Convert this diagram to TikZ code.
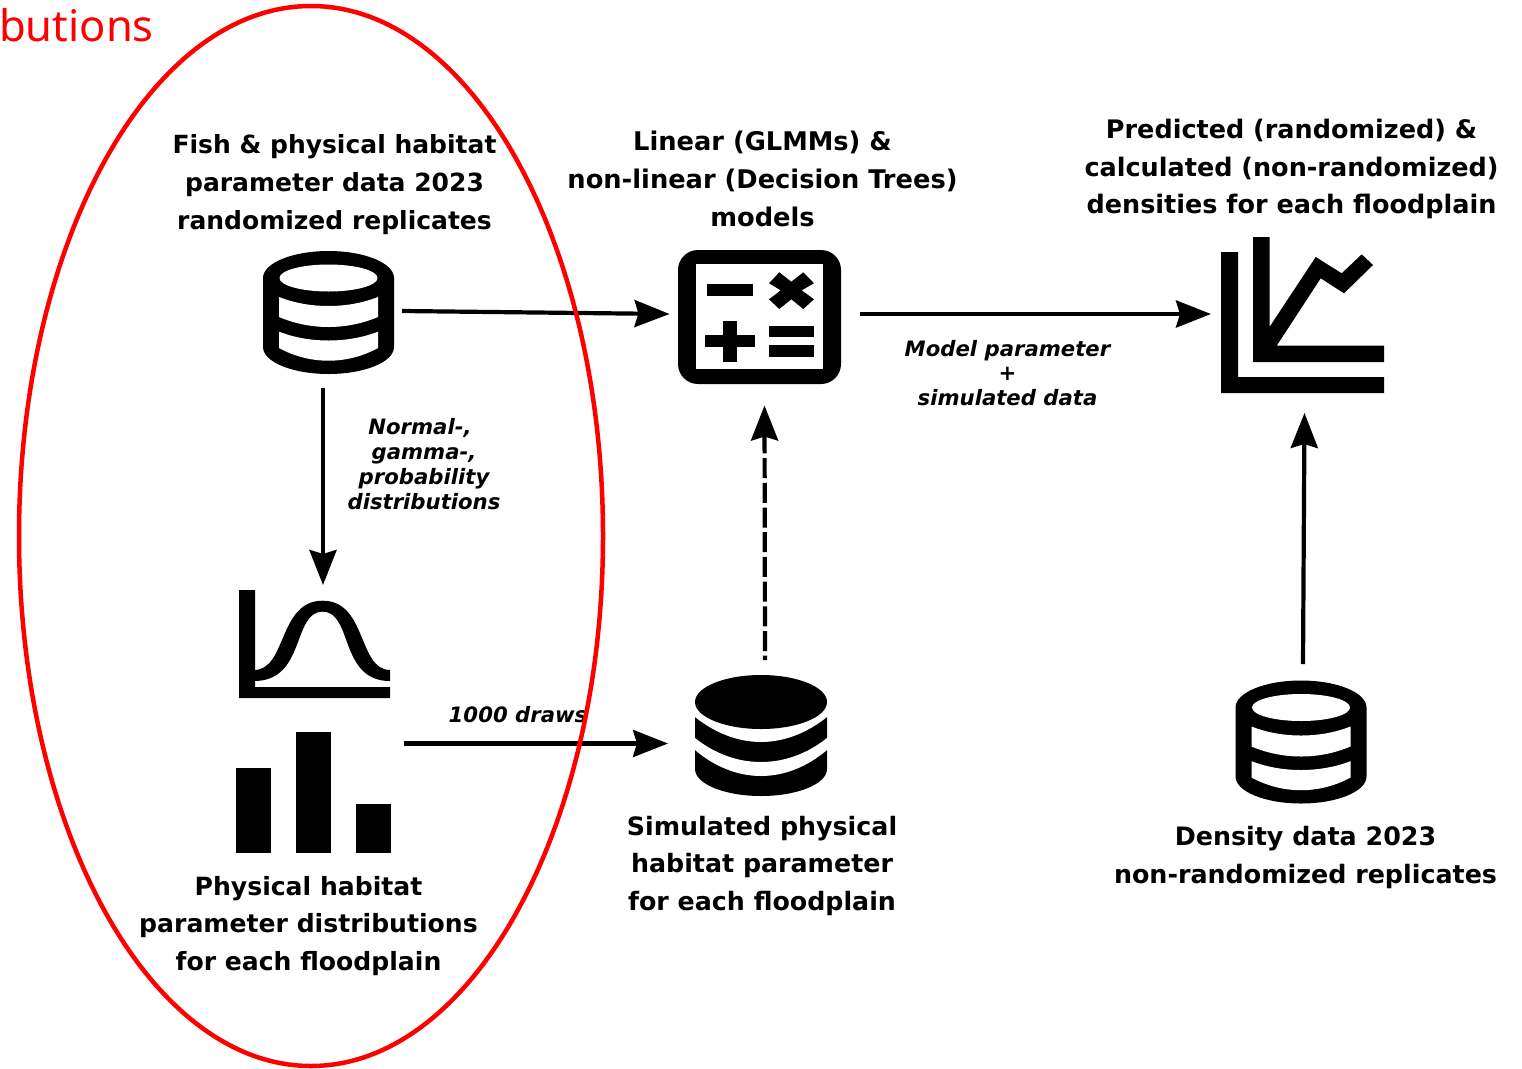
\documentclass[tikz,border=0pt]{standalone}
\usepackage{fontspec}
\setmainfont{DejaVu Sans}
\newfontfamily\redfont{Noto Sans}
\usetikzlibrary{arrows.meta}
\definecolor{ringred}{RGB}{255,0,0}
\tikzset{
  slot/.style={inner sep=0pt,outer sep=0pt,minimum width=#1},
  headtext/.style={align=center,font=\fontsize{#1}{37.7}\selectfont\bfseries,inner sep=0pt},
  edgetext/.style={align=center,font=\fontsize{21.2}{24.8}\selectfont\bfseries\itshape,inner sep=0pt},
  flow/.style={line width=4.2pt,-{Stealth[length=35pt,width=27pt,inset=4pt]}},
  dbicon/.pic={
    \fill (-65.5,27) arc[start angle=180,end angle=0,x radius=65.5pt,y radius=27pt] -- (65.5,96)
          arc[start angle=0,end angle=-180,x radius=65.5pt,y radius=27pt] -- cycle;
    \fill[white] (0,27) circle[x radius=49pt,y radius=13.5pt];
    \fill[white] (-49.5,46) .. controls (-33,52.5) and (-16,55) .. (0,55) .. controls (16,55) and (33,52.5) .. (49.5,46)
          -- (49.5,66) .. controls (33,73) and (16,76) .. (0,76) .. controls (-16,76) and (-33,73) .. (-49.5,66) -- cycle;
    \fill[white] (-49.5,80.7) .. controls (-33,87) and (-16,89.5) .. (0,89.5) .. controls (16,89.5) and (33,87) .. (49.5,80.7)
          -- (49.5,97) .. controls (33,106) and (16,109.7) .. (0,109.7) .. controls (-16,109.7) and (-33,106) .. (-49.5,97) -- cycle;
  },
  dbfilled/.pic={
    \fill (-66,27) -- (-66,94) arc[start angle=180,end angle=360,x radius=66pt,y radius=27pt] -- (66,27) -- cycle;
    \fill[white] (-68,20) -- (-68,40) -- (-66,42) .. controls (-46,58) and (-23,67) .. (0,67) .. controls (23,67) and (46,58) .. (66,42) -- (68,40) -- (68,20) -- cycle;
    \fill[white] (-68,61) -- (-66,63) .. controls (-46,79) and (-23,87) .. (0,87) .. controls (23,87) and (46,79) .. (66,63) -- (68,61) -- (68,73) -- (66,75) .. controls (46,92) and (23,101) .. (0,101) .. controls (-23,101) and (-46,92) .. (-66,75) -- (-68,73) -- cycle;
    \fill (0,27) circle[x radius=66pt,y radius=27pt];
  }
}
\begin{document}
\begin{tikzpicture}[x=1pt,y=-1pt]
\useasboundingbox (0,0) rectangle (1522,1068);
\fill[white] (0,0) rectangle (1522,1068);

% icon slots (invisible nodes that carry the connectors)
\node[slot=158pt,minimum height=154pt] (dbA) at (323,311) {};
\node[slot=190pt,minimum height=183pt] (calc) at (764.5,314) {};
\node[slot=187pt,minimum height=198pt] (chart) at (1304.5,314) {};
\node[slot=150pt,minimum height=110pt] (gauss) at (323,640) {};
\node[slot=162pt,minimum height=122pt] (bars) at (323,743.5) {};
\node[slot=194pt,minimum height=167pt] (dbB) at (765,743.5) {};
\node[slot=131pt,minimum height=156pt] (dbC) at (1303,742) {};

% databases
\pic at (328.5,251) {dbicon};
\pic at (1301,680.5) {dbicon};
\pic at (761,675) {dbfilled};

% calculator
\fill[rounded corners=20pt] (678,250) rectangle (841,384);
\fill[white] (696,264) rectangle (823,369);
\fill (707,284) rectangle (753,296);
\fill (705,335) rectangle (755,347);
\fill (723,321) rectangle (737,362);
\fill (769,326) rectangle (814,337);
\fill (769,345) rectangle (814,357);
\fill (769,283.3) -- (779.3,272.3) -- (791.3,281.7) -- (803.3,272.3) -- (814,283.3) -- (801.7,290.3) -- (814,299.3) -- (803.3,309) -- (791.3,299.3) -- (779.3,309) -- (769,299.3) -- (780.7,290.3) -- cycle;

% chart
\fill (1221,252) -- (1238,252) -- (1238,377) -- (1384,377) -- (1384,393) -- (1221,393) -- cycle;
\fill (1253,237) -- (1269.7,237) -- (1269.7,326.7) -- (1315.7,257) -- (1341.7,273.3) -- (1361.7,254.3) -- (1373,265) -- (1344,293.3) -- (1320.7,278.3) -- (1276.7,345.7) -- (1384,345.7) -- (1384,362) -- (1253,362) -- cycle;

% gauss curve
\fill (239,590) -- (255,590) -- (255,687) -- (390,687) -- (390,698) -- (239,698) -- cycle;
\fill (254,670) .. controls (287,670) and (278,600.7) .. (322.7,600.7) .. controls (367,600.7) and (358,670) .. (390,670)
   -- (390,681) .. controls (339,681) and (353,611.7) .. (322.7,611.7) .. controls (292,611.7) and (306,681) .. (254,681) -- cycle;

% bars
\fill (236,768) rectangle (271,853);
\fill (296,732) rectangle (331,853);
\fill (356,804) rectangle (391,853);

% connectors
\draw[flow] (dbA.east) -- (calc.west);
\draw[flow] (calc.east) -- (chart.west);
\draw[flow] (dbA.south) -- (gauss.north);
\draw[flow] (bars.east) -- (dbB.west);
\draw[flow,dash pattern=on 20pt off 4.7pt,dash phase=15.7pt] (dbB.north) -- (calc.south);
\draw[flow] (dbC.north) -- (chart.south);

% labels
\node[headtext=25.0] (t1) at (334.5,184.5) {Fish \& physical habitat\\parameter data 2023\\randomized replicates};
\node[headtext=25.7] (t2) at (762.5,179) {Linear (GLMMs) \&\\non-linear (Decision Trees)\\models};
\node[headtext=25.5] (t3) at (1291.5,169) {Predicted (randomized) \&\\calculated (non-randomized)\\densities for each floodplain};
\node[headtext=25.1] (t4) at (308.5,926) {Physical habitat\\parameter distributions\\for each floodplain};
\node[headtext=25.3] (t5) at (762,866) {Simulated physical\\habitat parameter\\for each floodplain};
\node[headtext=25.35] (t6) at (1305.5,857.5) {Density data 2023\\non-randomized replicates};
\node[edgetext] (e1) at (424,464) {Normal-,\hspace*{8pt}\\gamma-,\hspace*{2pt}\\probability\hspace*{8pt}\\distributions};
\node[edgetext] (e2) at (1007.5,373) {Model parameter\\+\\simulated data};
\node[edgetext] (e3) at (518,715) {1000 draws};

% ring and clipped word
\draw[ringred,line width=4.5pt] (311,536) circle[x radius=292pt,y radius=530pt];
\node[anchor=base west,inner sep=0pt,text=ringred,font=\fontsize{43.5}{48}\selectfont\redfont] (red) at (-1,41) {butions};
\end{tikzpicture}
\end{document}
